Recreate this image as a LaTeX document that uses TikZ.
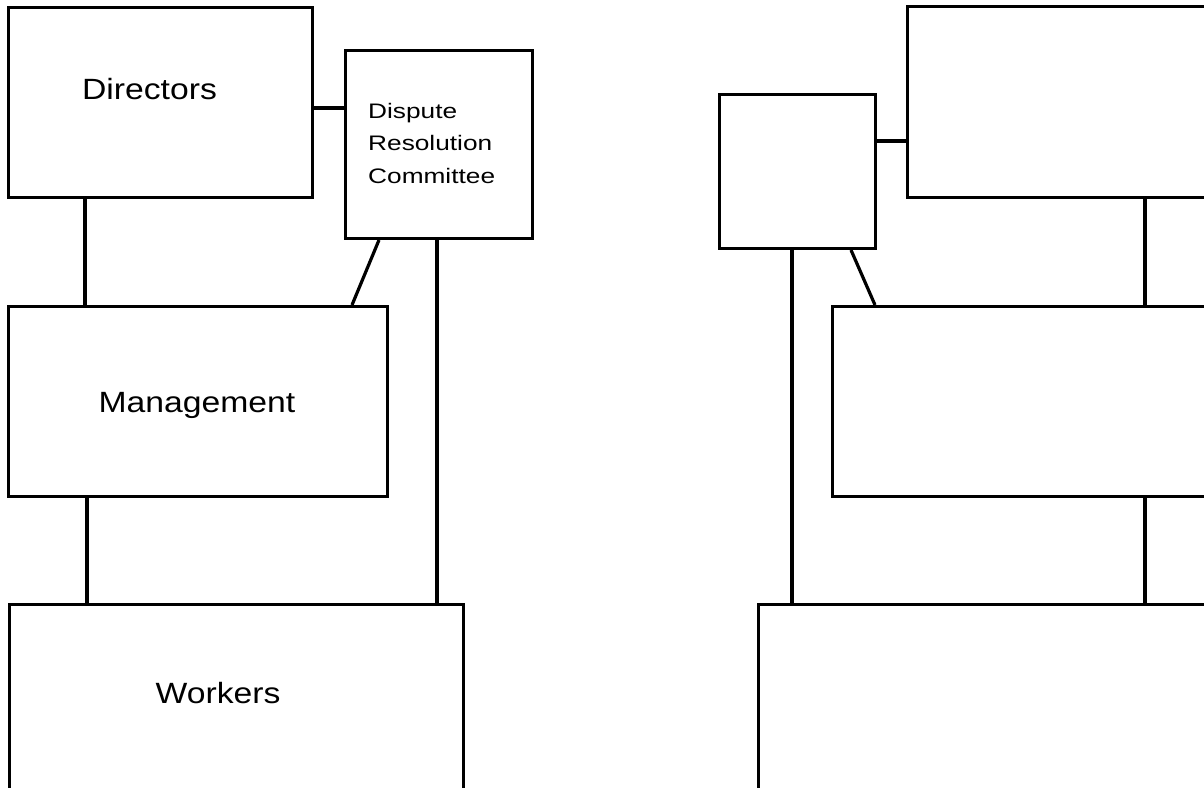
\documentclass[tikz,border=0pt]{standalone}
\usepackage{fontspec}
\newfontfamily\biglabel[FakeStretch=1.15]{Liberation Sans}
\newfontfamily\smalllabel[FakeStretch=1.25]{Liberation Sans}
\begin{document}
\begin{tikzpicture}[x=1pt,y=-1pt,
  orgbox/.style={draw=black, line width=3pt, rectangle, inner sep=0pt, anchor=north west},
  conn/.style={draw=black, line width=3.2pt},
  bigtext/.style={font=\biglabel\fontsize{29.3}{34}\selectfont, inner sep=0pt, anchor=base},
  smalltext/.style={font=\smalllabel\fontsize{21}{32.5}\selectfont, inner sep=0pt, anchor=north west, align=left}]
\useasboundingbox (0,0) rectangle (1204,787);
\clip (0,0) rectangle (1204,787);
\fill[white] (0,0) rectangle (1204,787);

% left chart
\node[orgbox, minimum width=304pt, minimum height=190pt] (dir) at (7,6) {};
\node[orgbox, minimum width=187pt, minimum height=188pt] (drc) at (344,49) {};
\node[orgbox, minimum width=379pt, minimum height=190pt] (mgmt) at (7,305) {};
\node[orgbox, minimum width=454pt, minimum height=200pt] (work) at (8,603) {};

\node[bigtext] (dirtext) at (149.5,99) {Directors};
\node[bigtext] (mgmttext) at (197,412) {Management};
\node[bigtext] (worktext) at (218,703) {Workers};
\node[smalltext] (drctext) at (368,103) {Dispute\\Resolution\\Committee};

% right chart (unlabelled)
\node[orgbox, minimum width=330pt, minimum height=191pt] (rtop) at (906,5) {};
\node[orgbox, minimum width=156pt, minimum height=154pt] (rsmall) at (718,93) {};
\node[orgbox, minimum width=400pt, minimum height=190pt] (rmid) at (831,305) {};
\node[orgbox, minimum width=480pt, minimum height=200pt] (rbot) at (757,603) {};

% helper coordinates
\coordinate (yA) at (0,108);
\coordinate (xA) at (85,0);
\coordinate (xB) at (379,0);
\coordinate (xC) at (352,0);
\coordinate (xD) at (437,0);
\coordinate (xE) at (87,0);
\coordinate (yB) at (0,141);
\coordinate (xF) at (792,0);
\coordinate (xG) at (851,0);
\coordinate (xH) at (875,0);
\coordinate (xI) at (1145,0);

% left connectors
\draw[conn] (dir.east |- yA) -- (drc.west |- yA);
\draw[conn] (xA |- dir.south) -- (xA |- mgmt.north);
\draw[conn] (xB |- drc.south) -- (xC |- mgmt.north);
\draw[conn] (xD |- drc.south) -- (xD |- work.north);
\draw[conn] (xE |- mgmt.south) -- (xE |- work.north);

% right connectors
\draw[conn] (rsmall.east |- yB) -- (rtop.west |- yB);
\draw[conn] (xF |- rsmall.south) -- (xF |- rbot.north);
\draw[conn] (xG |- rsmall.south) -- (xH |- rmid.north);
\draw[conn] (xI |- rtop.south) -- (xI |- rmid.north);
\draw[conn] (xI |- rmid.south) -- (xI |- rbot.north);
\end{tikzpicture}
\end{document}
